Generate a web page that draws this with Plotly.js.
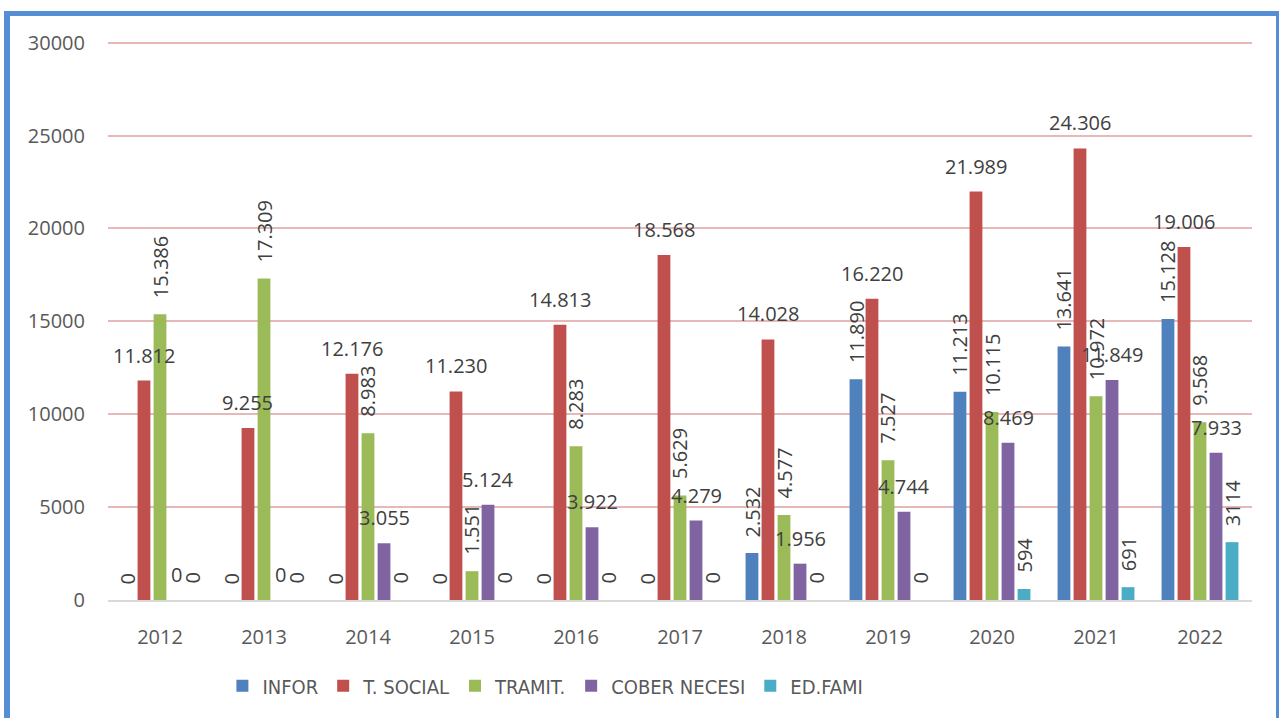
<!DOCTYPE html>
<html><head><meta charset="utf-8">
<script src="https://cdn.plot.ly/plotly-3.0.1.min.js"></script>
<style>
html,body{margin:0;padding:0;overflow:hidden;background:#fff}
#chart{width:1279px;height:718px}
#frame{position:absolute;left:4px;top:11px;width:1266px;height:720px;border-left:6px solid #558ED5;border-top:5px solid #558ED5;border-right:3px solid #558ED5;pointer-events:none}
</style></head><body>
<div id="chart"></div><div id="frame"></div>
<script>
const years = ["2012","2013","2014","2015","2016","2017","2018","2019","2020","2021","2022"];
const seriesNames = ["INFOR","T. SOCIAL","TRAMIT.","COBER NECESI","ED.FAMI"];
const infor   = [0,0,0,0,0,0,2532,11890,11213,13641,15128];
const tSocial = [11812,9255,12176,11230,14813,18568,14028,16220,21989,24306,19006];
const tramit  = [15386,17309,8983,1551,8283,5629,4577,7527,10115,10972,9568];
const cober   = [0,0,3055,5124,3922,4279,1956,4744,8469,11849,7933];
const edFami  = [0,0,0,0,0,0,0,0,594,691,3114];

const seriesValues = [infor, tSocial, tramit, cober, edFami];
const colors = ["#4F81BD","#C0504D","#9BBB59","#8064A2","#4BACC6"];
const labelAngles = [-90, 0, -90, 0, -90];
const thousandsSep = [true, true, true, true, false];

const bargap = 0.23;
const nS = seriesValues.length;
const slot = (1 - bargap) / nS;

function fmt(v, sep) {
  const s = String(v);
  return sep ? s.replace(/\B(?=(\d{3})+(?!\d))/g, ".") : s;
}

const traces = seriesValues.map((vals, k) => ({
  type: "bar",
  name: seriesNames[k],
  x: years,
  y: vals,
  marker: {color: colors[k], line: {width: 0}},
  hoverinfo: "x+y+name"
}));

const annotations = [];
seriesValues.forEach((vals, k) => {
  vals.forEach((v, i) => {
    const rot = labelAngles[k] !== 0;
    annotations.push({
      x: i + (k - (nS - 1) / 2) * slot,
      y: v,
      xref: "x", yref: "y",
      text: fmt(v, thousandsSep[k]),
      showarrow: false,
      textangle: labelAngles[k],
      xanchor: "center",
      yanchor: "bottom",
      yshift: rot ? 15 : 11,
      borderpad: 0,
      font: {family: "Open Sans, sans-serif", size: 20, color: "#404040"}
    });
  });
});

const layout = {
  width: 1279, height: 718,
  margin: {l: 108, r: 27, t: 39, b: 118},
  paper_bgcolor: "#ffffff",
  plot_bgcolor: "#ffffff",
  barmode: "group",
  bargap: bargap,
  bargroupgap: 0.2,
  showlegend: true,
  legend: {
    orientation: "h",
    x: 0.100, xanchor: "left",
    y: -0.153, yanchor: "middle",
    itemwidth: 30,
    font: {family: "DejaVu Sans Condensed, Liberation Sans Narrow, Open Sans, sans-serif", size: 20, color: "#595959"}
  },
  xaxis: {
    type: "category",
    showgrid: false,
    showline: true,
    linecolor: "#D9D9D9",
    linewidth: 2,
    ticks: "",
    ticklabelstandoff: 18,
    tickfont: {family: "Open Sans, sans-serif", size: 20, color: "#595959"}
  },
  yaxis: {
    range: [0, 30200],
    tick0: 0,
    dtick: 5000,
    tickformat: "d",
    showgrid: true,
    gridcolor: "#E6B9B8",
    gridwidth: 2,
    zeroline: false,
    showline: false,
    ticks: "",
    ticklabelstandoff: 22,
    tickfont: {family: "Open Sans, sans-serif", size: 20, color: "#595959"}
  },
  annotations: annotations
};

Plotly.newPlot("chart", traces, layout, {displayModeBar: false, staticPlot: true});
</script>
</body></html>
